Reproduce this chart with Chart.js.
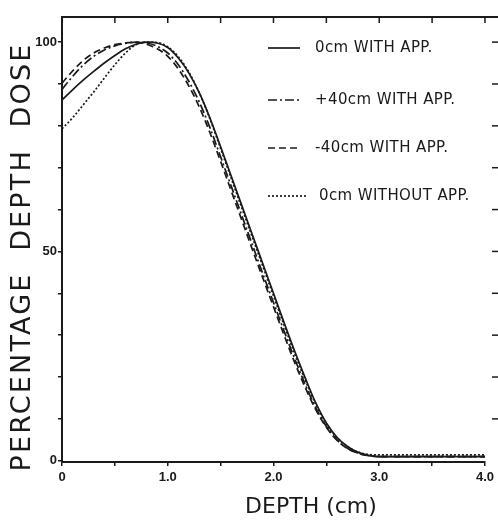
<!DOCTYPE html>
<html lang="en">
<head>
    <meta charset="UTF-8">
    <title>Percentage Depth Dose</title>
    <script src="https://cdn.jsdelivr.net/npm/chart.js"></script>
    <style>
        html, body { margin: 0; padding: 0; background: #fff; }
        #wrap { width: 498px; height: 521px; }
    </style>
</head>
<body>
    <div id="wrap"><canvas id="pddChart" width="498" height="521"></canvas></div>

    <script>
        // depth (cm) and dose (%)
        const depthCm = [0, 0.1, 0.2, 0.3, 0.4, 0.5, 0.6, 0.7, 0.8, 0.9, 1.0, 1.1, 1.2, 1.3, 1.4, 1.5, 1.6, 1.7, 1.8, 1.9, 2.0, 2.1, 2.2, 2.3, 2.4, 2.5, 2.6, 2.7, 2.8, 2.9, 3.0, 3.5, 4.0];
        const dose0cmWith = [86.2, 88.6, 90.9, 93.0, 95.0, 96.8, 98.4, 99.5, 100, 99.8, 98.7, 96.2, 92.6, 87.8, 81.8, 75.0, 68.0, 61.0, 54.0, 47.0, 40.0, 33.0, 26.2, 19.8, 13.8, 9.0, 5.6, 3.4, 2.0, 1.3, 1.0, 1.0, 1.0];
        const dosePlus40With = [88.7, 91.8, 94.5, 96.6, 98.1, 99.1, 99.7, 100, 99.8, 99.0, 97.4, 94.6, 90.6, 85.6, 79.5, 72.6, 65.6, 58.6, 51.6, 44.6, 37.8, 31.0, 24.4, 18.2, 12.6, 8.2, 5.0, 3.0, 1.8, 1.2, 1.0, 1.0, 1.0];
        const doseMinus40With = [90.2, 93.1, 95.6, 97.4, 98.6, 99.4, 99.8, 100, 99.5, 98.4, 96.6, 93.6, 89.5, 84.4, 78.3, 71.5, 64.5, 57.5, 50.5, 43.6, 36.8, 30.0, 23.5, 17.5, 12.2, 8.0, 4.9, 2.9, 1.8, 1.2, 1.0, 1.0, 1.0];
        const dose0cmWithout = [79.3, 81.9, 85.0, 88.1, 91.4, 94.6, 97.4, 99.4, 100, 99.9, 98.9, 96.5, 92.8, 87.8, 81.6, 74.6, 67.5, 60.4, 53.4, 46.4, 39.4, 32.4, 25.6, 19.3, 13.5, 8.8, 5.5, 3.4, 2.1, 1.5, 1.4, 1.4, 1.4];

        const seriesLabels = ['0cm WITH APP.', '+40cm WITH APP.', '-40cm WITH APP.', '0cm WITHOUT APP.'];

        // tick marks and their labels
        const xTickValues = [0, 0.5, 1, 1.5, 2, 2.5, 3, 3.5, 4];
        const xTickLabels = { 0: '0', 1: '1.0', 2: '2.0', 3: '3.0', 4: '4.0' };
        const yTickValues = [0, 10, 20, 30, 40, 50, 60, 70, 80, 90, 100];
        const yTickLabels = { 0: '0', 50: '50', 100: '100' };

        const ink = '#1a1a1a';
        const toPoints = arr => arr.map((v, i) => ({ x: depthCm[i], y: v }));

        const dashes = [[], [9, 3, 2, 3], [7, 4], [2, 2]];
        const seriesData = [dose0cmWith, dosePlus40With, doseMinus40With, dose0cmWithout];

        const datasets = seriesData.map((arr, i) => ({
            label: seriesLabels[i],
            data: toPoints(arr),
            borderColor: ink,
            borderWidth: 1.7,
            borderDash: dashes[i],
            pointRadius: 0,
            fill: false,
            cubicInterpolationMode: 'monotone'
        }));

        // frame, extra ticks, legend and axis titles
        const decorations = {
            id: 'decorations',
            afterDraw(chart) {
                const ctx = chart.ctx;
                const a = chart.chartArea;
                const xs = chart.scales.x, ys = chart.scales.y;
                ctx.save();
                ctx.strokeStyle = ink;
                ctx.fillStyle = ink;

                // top border runs to the edge of the picture
                ctx.lineWidth = 2;
                ctx.beginPath();
                ctx.moveTo(a.left - 1, a.top);
                ctx.lineTo(chart.width, a.top);
                ctx.stroke();

                ctx.lineWidth = 1.5;
                xTickValues.slice(1).forEach(v => {
                    const px = xs.getPixelForValue(v);
                    ctx.beginPath();
                    ctx.moveTo(px, a.top);
                    ctx.lineTo(px, a.top + 6);
                    ctx.stroke();
                });
                yTickValues.slice(1).forEach(v => {
                    const py = ys.getPixelForValue(v);
                    ctx.beginPath();
                    ctx.moveTo(chart.width - 6, py);
                    ctx.lineTo(chart.width, py);
                    ctx.stroke();
                });

                // legend
                ctx.font = '15px "DejaVu Sans"';
                ctx.letterSpacing = '0.4px';
                ctx.textBaseline = 'middle';
                const rowY = [48, 100, 148, 196];
                datasets.forEach((ds, i) => {
                    ctx.lineWidth = 1.7;
                    ctx.setLineDash(ds.borderDash);
                    ctx.beginPath();
                    ctx.moveTo(268, rowY[i]);
                    ctx.lineTo(i === 3 ? 307 : 300, rowY[i]);
                    ctx.stroke();
                    ctx.setLineDash([]);
                    ctx.fillText(ds.label, i === 3 ? 319 : 315, rowY[i]);
                });

                // x title
                ctx.font = '22px "DejaVu Sans"';
                ctx.letterSpacing = '0px';
                ctx.textAlign = 'center';
                ctx.fillText('DEPTH (cm)', 311, 507);

                // y title, stretched over the height of the axis
                const yTitle = 'PERCENTAGE  DEPTH  DOSE';
                ctx.font = '27px "DejaVu Sans"';
                const w0 = ctx.measureText(yTitle).width;
                const span = 427;
                ctx.letterSpacing = ((span - w0) / (yTitle.length - 1)) + 'px';
                ctx.translate(23, 257);
                ctx.rotate(-Math.PI / 2);
                ctx.fillText(yTitle, 0, 0);
                ctx.restore();
            }
        };

        new Chart(document.getElementById('pddChart').getContext('2d'), {
            type: 'line',
            data: { datasets: datasets },
            options: {
                responsive: false,
                animation: false,
                layout: { padding: { left: 0, top: 17, right: 12, bottom: 0 } },
                plugins: { legend: { display: false }, tooltip: { enabled: false } },
                scales: {
                    x: {
                        type: 'linear',
                        min: 0,
                        max: 4,
                        afterBuildTicks: s => { s.ticks = xTickValues.map(v => ({ value: v })); },
                        afterFit: s => { s.height = 59; },
                        border: { display: true, color: ink, width: 2 },
                        grid: { drawOnChartArea: false, drawTicks: true, tickLength: 4, tickColor: ink, lineWidth: 1.5 },
                        ticks: {
                            color: ink,
                            padding: 4,
                            maxRotation: 0,
                            autoSkip: false,
                            font: { family: '"Liberation Sans"', size: 13, weight: 'bold' },
                            callback: v => xTickLabels[v] || ''
                        }
                    },
                    y: {
                        min: -0.3,
                        max: 106,
                        afterBuildTicks: s => { s.ticks = yTickValues.map(v => ({ value: v })); },
                        afterFit: s => { s.width = 62; },
                        border: { display: true, color: ink, width: 2 },
                        grid: { drawOnChartArea: false, drawTicks: true, tickLength: 4, tickColor: ink, lineWidth: 1.5 },
                        ticks: {
                            color: ink,
                            padding: 1,
                            autoSkip: false,
                            font: { family: '"Liberation Sans"', size: 13, weight: 'bold' },
                            callback: v => yTickLabels[v] || ''
                        }
                    }
                }
            },
            plugins: [decorations]
        });
    </script>
</body>
</html>
